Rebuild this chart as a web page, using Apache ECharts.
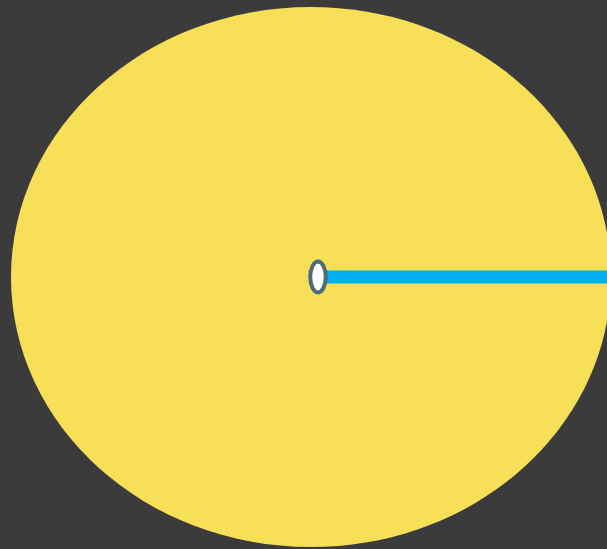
<!DOCTYPE html>
<html>
<head>
<meta charset="utf-8">
<script src="https://cdn.jsdelivr.net/npm/echarts@6/dist/echarts.min.js"></script>
<style>
html,body{margin:0;padding:0;background:#3b3b3b;}
#chart{width:607px;height:549px;}
</style>
</head>
<body>
<div id="chart"></div>
<script>
// Clock-style gauge: hours on the dial, pointer value
var dialMin = 0;
var dialMax = 12;
var pointerValue = [3];

var chart = echarts.init(document.getElementById('chart'));
chart.setOption({
  backgroundColor: '#3b3b3b',
  animation: false,
  graphic: [{
    type: 'ellipse',
    shape: { cx: 311, cy: 277, rx: 300, ry: 270 },
    style: { fill: '#f7df57' },
    z: -10,
    silent: true
  }],
  series: [{
    type: 'gauge',
    center: [318, 277],
    radius: 300,
    startAngle: 90,
    endAngle: -270,
    min: dialMin,
    max: dialMax,
    axisLine: { show: false },
    splitLine: { show: false },
    axisTick: { show: false },
    axisLabel: { show: false },
    title: { show: false },
    detail: { show: false },
    pointer: {
      icon: 'rect',
      width: 13,
      length: 300,
      offsetCenter: [0, 0],
      itemStyle: { color: '#00b0f0' }
    },
    anchor: {
      show: true,
      showAbove: true,
      size: 31,
      icon: 'path://M0,-2A1,2 0 1 1 0,2A1,2 0 1 1 0,-2Z',
      keepAspect: true,
      itemStyle: { color: '#ffffff', borderColor: '#4e6b7a', borderWidth: 4 }
    },
    data: pointerValue.map(function (v) { return { value: v }; })
  }]
});
</script>
</body>
</html>
